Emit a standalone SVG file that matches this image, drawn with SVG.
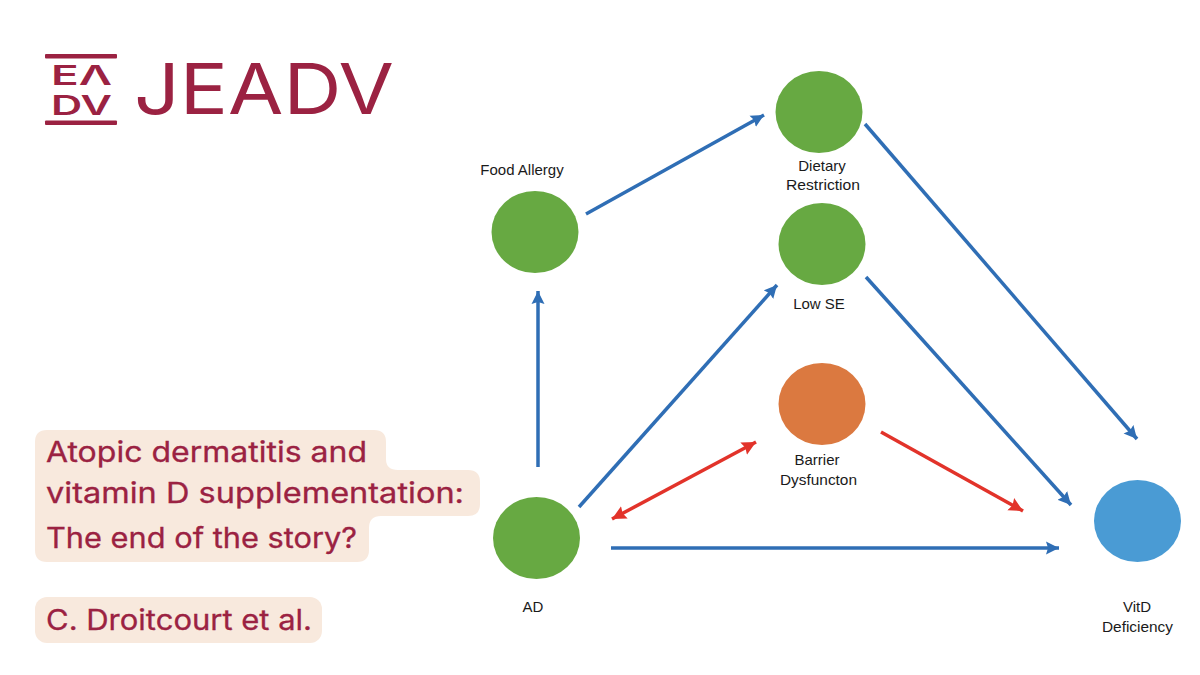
<svg xmlns="http://www.w3.org/2000/svg" width="1200" height="675" viewBox="0 0 1200 675">
<style>
.lbl{font-family:"Liberation Sans",Arial,sans-serif;font-size:15px;fill:#1a1a1a;text-anchor:middle}
.ttl{font-family:"Inter","Liberation Sans",sans-serif;font-size:28px;fill:#9b2242;stroke:#9b2242;stroke-width:0.300}
.logo{font-family:"Inter","Liberation Sans",sans-serif;fill:#9b2242}
.blue{stroke:#2f6eb5;stroke-width:3.500;fill:none;marker-end:url(#ab)}
.red{stroke:#e2332a;stroke-width:3.500;fill:none;marker-end:url(#ar)}
</style>
<defs>
<marker id="ab" markerUnits="userSpaceOnUse" markerWidth="14" markerHeight="14" refX="13" refY="7" orient="auto"><path d="M0 0.500L13 7L0 13.500L2 7Z" fill="#2f6eb5"/></marker>
<marker id="ar" markerUnits="userSpaceOnUse" markerWidth="15" markerHeight="15" refX="14" refY="7.500" orient="auto-start-reverse"><path d="M0 0.500L14 7.500L0 14.500L2 7.500Z" fill="#e2332a"/></marker>
</defs>
<rect width="1200" height="675" fill="#fff"/>
<g id="logo">
<rect x="45" y="54" width="72" height="4.500" rx="1" fill="#9b2242"/>
<rect x="45" y="120.500" width="72" height="4.500" rx="1" fill="#9b2242"/>
<text class="logo" x="51" y="85" font-size="27" font-weight="600" textLength="61" lengthAdjust="spacingAndGlyphs">EΛ</text>
<text class="logo" x="51" y="115" font-size="27" font-weight="600" textLength="61" lengthAdjust="spacingAndGlyphs">DV</text>
<text class="logo" x="134" y="114" font-size="70" textLength="260" lengthAdjust="spacingAndGlyphs">JEADV</text>
</g>
<g id="title">
<path d="M47 430H374Q386 430 386 442V459Q386 470 398 470H468Q480 470 480 482V504Q480 516 468 516H381Q369 516 369 528V550Q369 562 357 562H47Q35 562 35 550V442Q35 430 47 430Z" fill="#f8e9dd"/>
<text class="ttl" x="46" y="462" textLength="321" lengthAdjust="spacingAndGlyphs">Atopic dermatitis and</text>
<text class="ttl" x="46" y="503" textLength="418" lengthAdjust="spacingAndGlyphs">vitamin D supplementation:</text>
<text class="ttl" x="46" y="548" textLength="311" lengthAdjust="spacingAndGlyphs">The end of the story?</text>
</g>
<g id="author">
<rect x="35" y="597" width="287" height="46" rx="12" fill="#f8e9dd"/>
<text class="ttl" x="46" y="630" textLength="266" lengthAdjust="spacingAndGlyphs">C. Droitcourt et al.</text>
</g>
<g id="connectors">
<path class="blue" d="M538 467V291"/>
<path class="blue" d="M586 214L764 115"/>
<path class="blue" d="M865 124L1137 439"/>
<path class="blue" d="M579 507L777 285"/>
<path class="blue" d="M866 277L1071 505"/>
<path class="blue" d="M611 548H1059"/>
<path class="red" d="M612 519L756 442" marker-start="url(#ar)"/>
<path class="red" d="M881 432L1023 511"/>
</g>
<g id="food-allergy"><ellipse cx="535" cy="232" rx="43.500" ry="41" fill="#67a942"/><text class="lbl" x="522" y="175">Food Allergy</text></g>
<g id="dietary-restriction"><ellipse cx="819" cy="112" rx="43.500" ry="41" fill="#67a942"/><text class="lbl" x="822" y="171">Dietary</text><text class="lbl" x="823" y="190" textLength="74" lengthAdjust="spacingAndGlyphs">Restriction</text></g>
<g id="low-se"><ellipse cx="822" cy="244" rx="43.500" ry="41" fill="#67a942"/><text class="lbl" x="819" y="309">Low SE</text></g>
<g id="barrier"><ellipse cx="822" cy="404" rx="43.500" ry="41" fill="#db7940"/><text class="lbl" x="817" y="465">Barrier</text><text class="lbl" x="818.500" y="485" textLength="77" lengthAdjust="spacingAndGlyphs">Dysfuncton</text></g>
<g id="ad"><ellipse cx="536.500" cy="538" rx="43.500" ry="41" fill="#67a942"/><text class="lbl" x="533" y="612">AD</text></g>
<g id="vitd"><ellipse cx="1137.500" cy="521" rx="43.500" ry="41" fill="#4a9bd4"/><text class="lbl" x="1137" y="612">VitD</text><text class="lbl" x="1137.500" y="632" textLength="71" lengthAdjust="spacingAndGlyphs">Deficiency</text></g>
</svg>
